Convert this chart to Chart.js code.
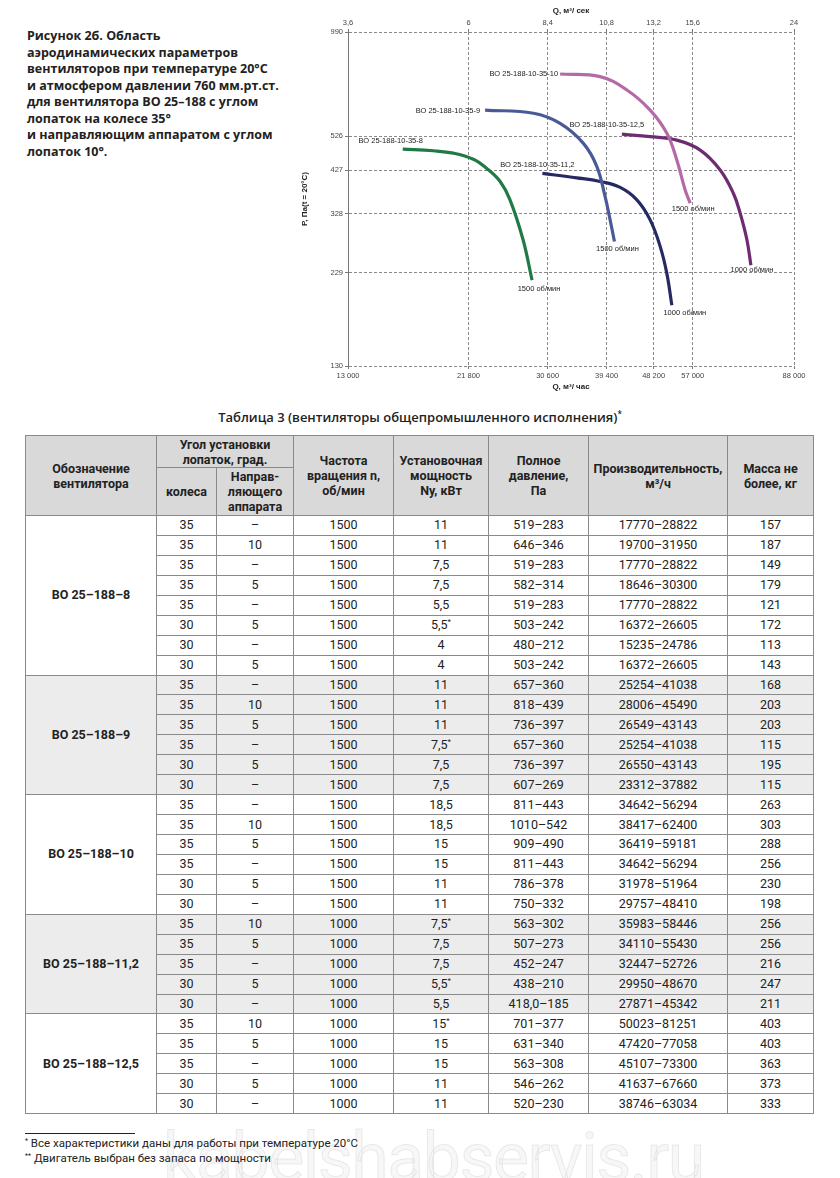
<!DOCTYPE html>
<html lang="ru">
<head>
<meta charset="utf-8">
<script src="https://cdn.jsdelivr.net/npm/chart.js@4.4.1/dist/chart.umd.min.js"></script>
<style>
  html, body { margin: 0; padding: 0; background: #fff; }
  body { width: 840px; height: 1178px; position: relative; overflow: hidden; font-family: Roboto, "Noto Sans", sans-serif; color: #222; }
  #caption { position: absolute; left: 27px; top: 28px; font-family: "Open Sans", sans-serif; font-weight: 700; font-size: 12.5px; line-height: 16.5px; color: #222; white-space: nowrap; }
  #chartBox { position: absolute; left: 300px; top: 0; width: 520px; height: 395px; }
  #tblTitle { position: absolute; left: 0; width: 840px; top: 408px; text-align: center; font-family: "Open Sans", sans-serif; font-weight: 600; font-size: 13px; color: #222; }
  #tblTitle sup, td sup { font-size: 8px; line-height: 0; vertical-align: 5px; }
  table { position: absolute; left: 25px; top: 435px; border-collapse: collapse; table-layout: fixed; width: 788px; }
  th, td { border: 1px solid #8a8a8a; padding: 0; text-align: center; vertical-align: middle; font-size: 12.5px; }
  th { background: #d9d9d9; font-weight: 700; line-height: 15px; color: #222; }
  td { height: 18.95px; line-height: 14px; }
  tr.shade td { background: #ececec; }
  td.model { font-weight: 700; }
  #footLine { position: absolute; left: 25px; top: 1133px; width: 110px; height: 0; border-top: 1px solid #222; }
  #foot { position: absolute; left: 25px; top: 1136px; font-size: 11.5px; line-height: 15px; color: #222; }
  #foot sup { font-size: 7px; vertical-align: 4px; line-height: 0; }
  #wm { position: absolute; left: 163px; top: 1118px; font-family: Roboto, sans-serif; font-size: 68px; letter-spacing: -1.5px; color: rgba(0,0,0,0.03); -webkit-text-stroke: 1px rgba(0,0,0,0.08); white-space: nowrap; }
</style>
</head>
<body>
<div id="caption">Рисунок 2б. Область<br>аэродинамических параметров<br>вентиляторов при температуре 20°C<br>и атмосфером давлении 760 мм.рт.ст.<br>для вентилятора ВО 25–188 с углом<br>лопаток на колесе 35°<br>и направляющим аппаратом с углом<br>лопаток 10°.</div>
<div id="chartBox"><canvas id="c" width="520" height="395"></canvas></div>
<div id="tblTitle">Таблица 3 (вентиляторы общепромышленного исполнения)<sup>*</sup></div>
<div id="wm">kabelshabservis.ru</div>
<table id="tbl"></table>
<div id="footLine"></div>
<div id="foot"><sup>*</sup> Все характеристики даны для работы при температуре 20°C<br><sup>**</sup> Двигатель выбран без запаса по мощности</div>

<script>
// ---------- Chart data ----------
const qHourTicks = [13000, 21800, 30600, 39400, 48200, 57000, 88000];
const qSecTickLabels = [3.6, 6, 8.4, 10.8, 13.2, 15.6, 24];
const pTicks = [130, 229, 328, 427, 526, 990];

const curveNames = ['ВО 25-188-10-35-8', 'ВО 25-188-10-35-9', 'ВО 25-188-10-35-10', 'ВО 25-188-10-35-11,2', 'ВО 25-188-10-35-12,5'];
const rpmLabels = ['1500 об/мин', '1500 об/мин', '1500 об/мин', '1000 об/мин', '1000 об/мин'];

const q8 = [16440, 18740, 20430, 22250, 23570, 24960, 26040, 27540, 28620];
const p8 = [486, 481, 474, 457, 432, 399, 357, 280, 219];
const q9 = [23400, 28790, 32280, 35670, 37790, 39150, 40000, 40750];
const p9 = [616, 604, 568, 503, 437, 364, 316, 277];
const q10 = [32280, 38320, 42980, 47490, 51020, 53240, 55180, 56380];
const p10 = [767, 755, 696, 616, 535, 455, 379, 350];
const q112 = [29920, 34670, 38320, 41760, 44860, 47490, 49570, 51020, 52120];
const p112 = [419, 408, 399, 385, 357, 316, 269, 228, 188];
const q125 = [42070, 47490, 53240, 58860, 64120, 67880, 69860, 71910, 73150];
const p125 = [532, 524, 513, 483, 428, 371, 329, 280, 240];

// ---------- Table data ----------
const fanModels = ['ВО 25–188–8', 'ВО 25–188–9', 'ВО 25–188–10', 'ВО 25–188–11,2', 'ВО 25–188–12,5'];
// columns: wheel angle, guide angle, rpm, power, pressure, flow, mass
const rows8 = [
  ['35','–','1500','11','519–283','17770–28822','157'],
  ['35','10','1500','11','646–346','19700–31950','187'],
  ['35','–','1500','7,5','519–283','17770–28822','149'],
  ['35','5','1500','7,5','582–314','18646–30300','179'],
  ['35','–','1500','5,5','519–283','17770–28822','121'],
  ['30','5','1500','5,5*','503–242','16372–26605','172'],
  ['30','–','1500','4','480–212','15235–24786','113'],
  ['30','5','1500','4','503–242','16372–26605','143']
];
const rows9 = [
  ['35','–','1500','11','657–360','25254–41038','168'],
  ['35','10','1500','11','818–439','28006–45490','203'],
  ['35','5','1500','11','736–397','26549–43143','203'],
  ['35','–','1500','7,5*','657–360','25254–41038','115'],
  ['30','5','1500','7,5','736–397','26550–43143','195'],
  ['30','–','1500','7,5','607–269','23312–37882','115']
];
const rows10 = [
  ['35','–','1500','18,5','811–443','34642–56294','263'],
  ['35','10','1500','18,5','1010–542','38417–62400','303'],
  ['35','5','1500','15','909–490','36419–59181','288'],
  ['35','–','1500','15','811–443','34642–56294','256'],
  ['30','5','1500','11','786–378','31978–51964','230'],
  ['30','–','1500','11','750–332','29757–48410','198']
];
const rows112 = [
  ['35','10','1000','7,5*','563–302','35983–58446','256'],
  ['35','5','1000','7,5','507–273','34110–55430','256'],
  ['35','–','1000','7,5','452–247','32447–52726','216'],
  ['30','5','1000','5,5*','438–210','29950–48670','247'],
  ['30','–','1000','5,5','418,0–185','27871–45342','211']
];
const rows125 = [
  ['35','10','1000','15*','701–377','50023–81251','403'],
  ['35','5','1000','15','631–340','47420–77058','403'],
  ['35','–','1000','15','563–308','45107–73300','363'],
  ['30','5','1000','11','546–262','41637–67660','373'],
  ['30','–','1000','11','520–230','38746–63034','333']
];
const tableGroups = [rows8, rows9, rows10, rows112, rows125];

// ---------- Styles ----------
const curveColors = ['#1f7a45', '#4a5a98', '#b46aa6', '#262a62', '#6e2c70'];
const nameOffsets = [[-12, -8, 'center'], [-5, 1, 'right'], [-2, 0, 'right'], [-5, -9, 'center'], [-15, -9, 'center']];
const rpmOffsets = [[7, 9], [3, 7], [3, 6], [13, 8], [1, 5]];
const colWidths = [131, 60, 77, 100, 95, 100, 139, 86];

// ---------- Build table ----------
(function () {
  const t = document.getElementById('tbl');
  let html = '<colgroup>' + colWidths.map(w => '<col style="width:' + w + 'px">').join('') + '</colgroup>';
  html += '<tr style="height:32px"><th rowspan="2">Обозначение<br>вентилятора</th><th colspan="2">Угол установки<br>лопаток, град.</th>' +
          '<th rowspan="2">Частота<br>вращения n,<br>об/мин</th><th rowspan="2">Установочная<br>мощность<br>Ny, кВт</th>' +
          '<th rowspan="2">Полное<br>давление,<br>Па</th><th rowspan="2">Производительность,<br>м³/ч</th><th rowspan="2">Масса не<br>более, кг</th></tr>';
  html += '<tr style="height:48px"><th>колеса</th><th>Направ-<br>ляющего<br>аппарата</th></tr>';
  const fmt = s => s.replace('*', '<sup>*</sup>');
  tableGroups.forEach((rows, gi) => {
    const cls = gi % 2 === 1 ? ' class="shade"' : '';
    rows.forEach((r, ri) => {
      html += '<tr' + cls + '>';
      if (ri === 0) html += '<td class="model" rowspan="' + rows.length + '">' + fanModels[gi] + '</td>';
      html += r.map(v => '<td>' + fmt(v) + '</td>').join('');
      html += '</tr>';
    });
  });
  t.innerHTML = html;
})();

// ---------- Chart ----------
const FONT = '"Liberation Sans", Arial, sans-serif';
const pairs = (qs, ps) => qs.map((q, i) => ({ x: q, y: ps[i] }));
const curveData = [pairs(q8, p8), pairs(q9, p9), pairs(q10, p10), pairs(q112, p112), pairs(q125, p125)];
const spaced = v => String(v).replace(/\B(?=(\d{3})+(?!\d))/g, ' ');

const curveLabels = {
  id: 'curveLabels',
  afterDatasetsDraw(chart) {
    const { ctx, scales: { x, y } } = chart;
    ctx.save();
    ctx.font = '7.5px ' + FONT;
    ctx.fillStyle = '#222';
    ctx.textBaseline = 'middle';
    curveData.forEach((pts, i) => {
      const a = pts[0], b = pts[pts.length - 1];
      const no = nameOffsets[i];
      ctx.textAlign = no[2];
      ctx.fillText(curveNames[i], x.getPixelForValue(a.x) + no[0], y.getPixelForValue(a.y) + no[1]);
      const ro = rpmOffsets[i];
      ctx.textAlign = 'center';
      ctx.fillText(rpmLabels[i], x.getPixelForValue(b.x) + ro[0], y.getPixelForValue(b.y) + ro[1]);
    });
    ctx.restore();
  }
};

const gridCommon = { color: '#8a8a8a', lineWidth: 1, tickLength: 3, tickColor: '#777' };
const tickFont = { family: FONT, size: 7.5 };
const titleFont = { family: FONT, size: 8, weight: 'bold' };

new Chart(document.getElementById('c'), {
  type: 'line',
  data: {
    datasets: curveData.map((d, i) => ({
      label: curveNames[i],
      data: d,
      borderColor: curveColors[i],
      borderWidth: 3.2,
      pointRadius: 0,
      tension: 0.4,
      fill: false,
      borderCapStyle: 'butt'
    }))
  },
  options: {
    responsive: false,
    animation: false,
    devicePixelRatio: 1,
    parsing: false,
    layout: { padding: { left: 0, right: 26, top: 0, bottom: 0 } },
    plugins: { legend: { display: false }, tooltip: { enabled: false } },
    scales: {
      x: {
        type: 'logarithmic', position: 'bottom', min: 13000, max: 88000,
        afterBuildTicks: s => { s.ticks = qHourTicks.map(v => ({ value: v })); },
        afterFit: s => { s.height = 29; },
        ticks: { callback: v => spaced(v), font: tickFont, color: '#444', maxRotation: 0, autoSkip: false, padding: 2 },
        grid: gridCommon,
        border: { display: false, dash: [3, 2] },
        title: { display: true, text: 'Q, м³/ час', font: titleFont, color: '#222', padding: { top: 0, bottom: 3 } }
      },
      x2: {
        type: 'logarithmic', position: 'top', min: 13000, max: 88000,
        afterBuildTicks: s => { s.ticks = qHourTicks.map(v => ({ value: v })); },
        afterFit: s => { s.height = 32; },
        ticks: { callback: (v, i) => String(qSecTickLabels[i]).replace('.', ','), font: tickFont, color: '#444', maxRotation: 0, autoSkip: false, padding: 2 },
        grid: Object.assign({}, gridCommon, { drawOnChartArea: false }),
        border: { display: false },
        title: { display: true, text: 'Q, м³/ сек', font: titleFont, color: '#222', padding: { top: 6, bottom: 0 } }
      },
      y: {
        type: 'logarithmic', position: 'left', min: 130, max: 990,
        afterBuildTicks: s => { s.ticks = pTicks.map(v => ({ value: v })); },
        afterFit: s => { s.width = 48; },
        ticks: { callback: v => String(v), font: tickFont, color: '#444', autoSkip: false, padding: 2 },
        grid: gridCommon,
        border: { display: true, color: '#777', width: 1, dash: [3, 2] },
        title: { display: true, text: 'P, Па(t = 20°C)', font: titleFont, color: '#222', padding: { top: 0, bottom: 0, left: 8 } }
      }
    }
  },
  plugins: [curveLabels]
});
</script>
</body>
</html>
